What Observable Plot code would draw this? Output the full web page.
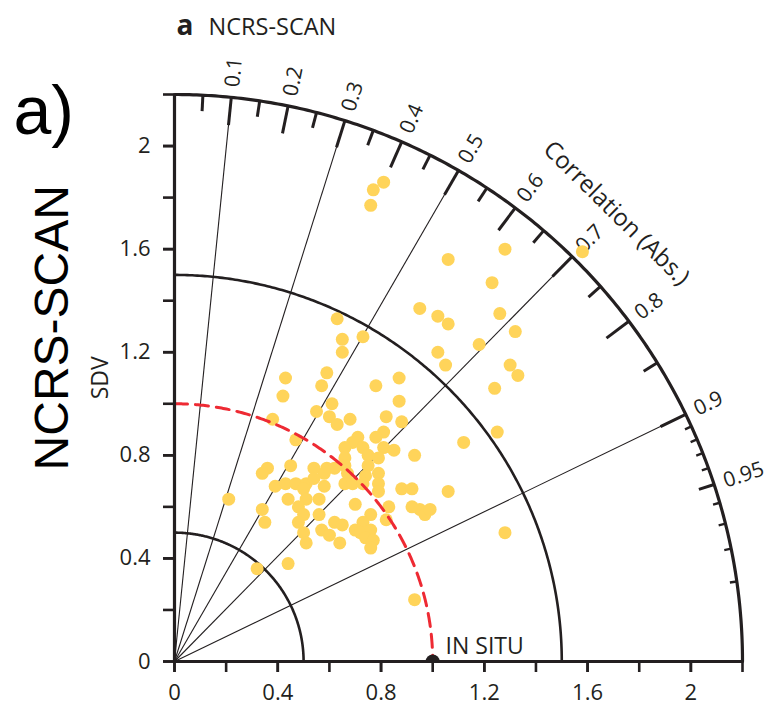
<!DOCTYPE html>
<html>
<head>
<meta charset="utf-8">
<script src="https://cdn.jsdelivr.net/npm/d3@7"></script>
<script src="https://cdn.jsdelivr.net/npm/@observablehq/plot@0.6"></script>
<style>
  html, body { margin: 0; padding: 0; background: #fff; }
</style>
</head>
<body>
<div id="chart"></div>
<script>
// ---------- texts ----------
const panelLetter = "a";
const panelTitle = "NCRS-SCAN";
const panelTag = "a)";
const rowLabel = "NCRS-SCAN";
const sdvLabel = "SDV";
const corrLabel = "Correlation (Abs.)";
const refLabel = "IN SITU";

// ---------- diagram set-up ----------
const sdvMax = 2.2;
const refSDV = 1.0;
const sdvTicks = [0, 0.4, 0.8, 1.2, 1.6, 2];
const sdvMinorTicks = [0, 0.2, 0.4, 0.6, 0.8, 1.0, 1.2, 1.4, 1.6, 1.8, 2.0, 2.2];
const sdvArcs = [0.5, 1.5];
const corrLines = [0.1, 0.3, 0.5, 0.7, 0.9];
const corrMajor = [0.1, 0.2, 0.3, 0.4, 0.5, 0.6, 0.7, 0.8, 0.9];
const corrMinor = [0.05, 0.15, 0.25, 0.35, 0.45, 0.55, 0.65, 0.75, 0.85, 0.95];
const corrFine = [0.91, 0.92, 0.93, 0.94, 0.96, 0.97, 0.98, 0.99];
const corrTickLabels = [0.1, 0.2, 0.3, 0.4, 0.5, 0.6, 0.7, 0.8, 0.9, 0.95];

// ---------- model points (SDV·corr, SDV·sin) ----------
const ptX = [0.65,0.73,0.65,1.02,1.05,0.43,0.59,0.87,0.42,0.57,
             0.78,0.61,0.87,0.55,0.60,0.68,0.82,0.38,0.63,0.88,
             0.81,0.47,0.78,0.71,0.69,0.81,0.85,0.66,0.73,1.12,
             0.93,0.66,0.75,0.79,0.45,0.36,0.34,0.54,0.59,0.62,
             0.66,0.75,0.58,0.67,0.74,0.79,0.66,0.69,0.73,0.79,
             0.39,0.43,0.47,0.51,0.54,0.50,0.58,0.79,0.88,0.92,
             1.06,0.21,0.44,0.51,0.56,0.70,0.83,0.92,0.95,0.97,
             0.99,0.34,0.48,0.50,0.56,0.76,0.82,0.35,0.48,0.62,
             0.65,0.73,0.70,0.57,0.50,0.60,0.64,0.72,0.76,0.74,
             0.77,0.51,0.76,0.44,0.32,
             0.81,0.77,0.76,0.63,1.28,1.06,1.23,0.95,1.02,1.06,
             1.26,1.32,1.18,1.30,1.33,1.24,1.25,1.28,1.58,0.93];
const ptY = [1.25,1.26,1.20,1.20,1.15,1.10,1.12,1.10,1.03,1.07,
             1.07,1.00,1.01,0.97,0.95,0.94,0.95,0.94,0.92,0.93,
             0.89,0.86,0.87,0.87,0.85,0.83,0.82,0.83,0.83,0.85,
             0.80,0.79,0.80,0.79,0.76,0.75,0.73,0.75,0.75,0.75,
             0.76,0.76,0.73,0.73,0.72,0.73,0.69,0.69,0.69,0.69,
             0.68,0.69,0.69,0.69,0.71,0.67,0.68,0.66,0.67,0.67,
             0.66,0.63,0.63,0.63,0.63,0.61,0.60,0.60,0.59,0.57,
             0.59,0.59,0.60,0.57,0.57,0.57,0.55,0.54,0.54,0.54,
             0.53,0.54,0.51,0.51,0.50,0.49,0.46,0.50,0.51,0.48,
             0.47,0.46,0.44,0.38,0.36,
             1.86,1.83,1.77,1.33,1.60,1.56,1.47,1.37,1.34,1.31,
             1.35,1.28,1.23,1.15,1.11,1.06,0.89,0.50,1.59,0.24];

// ---------- derived tables ----------
const points = ptX.map((x, i) => ({x, y: ptY[i]}));
const sinOf = c => Math.sqrt(1 - c * c);
const arc = (r, n = 240) => d3.range(n + 1).map(i => {
  const a = (1 - i / n) * Math.PI / 2;           // from the SDV axis down to the x axis
  return {x: r * Math.cos(a), y: r * Math.sin(a)};
});
const tickLen = px => px / 258;

const INK = "#231f20";
const YELLOW = "#ffd45a";
const RED = "#ee2a33";
const SANS = "'Open Sans', 'Noto Sans', sans-serif";
const ARIAL = "'Liberation Sans', Arial, sans-serif";

const corrLabelAngle = 45.45 * Math.PI / 180;
const corrLabelR = 2.44;

const chart = Plot.plot({
  width: 766,
  height: 705,
  marginLeft: 174,
  marginRight: 24,
  marginTop: 94,
  marginBottom: 44,
  x: {domain: [0, sdvMax], nice: false},
  y: {domain: [0, sdvMax], nice: false},
  style: {background: "#fff", color: INK, fontFamily: SANS, fontSize: "22px", overflow: "visible"},
  marks: [
    // radial correlation lines
    Plot.link(corrLines, {
      x1: () => 0, y1: () => 0,
      x2: c => sdvMax * c, y2: c => sdvMax * sinOf(c),
      stroke: INK, strokeWidth: 1.1
    }),
    // SDV arcs
    ...sdvArcs.map(r => Plot.line(arc(r), {x: "x", y: "y", stroke: INK, strokeWidth: 2.6})),
    Plot.line(arc(sdvMax), {x: "x", y: "y", stroke: INK, strokeWidth: 3.2}),
    // correlation ticks on the outer arc
    Plot.link(corrMajor, {
      x1: c => sdvMax * c, y1: c => sdvMax * sinOf(c),
      x2: c => (sdvMax - tickLen(28)) * c, y2: c => (sdvMax - tickLen(28)) * sinOf(c),
      stroke: INK, strokeWidth: 3
    }),
    Plot.link(corrMinor, {
      x1: c => sdvMax * c, y1: c => sdvMax * sinOf(c),
      x2: c => (sdvMax - tickLen(16)) * c, y2: c => (sdvMax - tickLen(16)) * sinOf(c),
      stroke: INK, strokeWidth: 3
    }),
    Plot.link(corrFine, {
      x1: c => sdvMax * c, y1: c => sdvMax * sinOf(c),
      x2: c => (sdvMax - tickLen(7)) * c, y2: c => (sdvMax - tickLen(7)) * sinOf(c),
      stroke: INK, strokeWidth: 2.4
    }),
    // correlation tick labels
    Plot.text(corrTickLabels, {
      x: c => 2.24 * c, y: c => 2.24 * sinOf(c),
      text: c => String(c),
      rotate: c => -Math.acos(c) * 180 / Math.PI,
      textAnchor: "start", lineAnchor: "middle",
      fontSize: 21, fill: INK
    }),
    Plot.text([corrLabel], {
      x: () => corrLabelR * Math.cos(corrLabelAngle),
      y: () => corrLabelR * Math.sin(corrLabelAngle),
      text: d => d, rotate: 90 - 45.45,
      textAnchor: "middle", lineAnchor: "middle",
      fontSize: 24, fill: INK
    }),
    // model points
    Plot.dot(points, {x: "x", y: "y", r: 6.5, fill: YELLOW, stroke: "none"}),
    // reference SDV arc
    Plot.line(arc(refSDV), {x: "x", y: "y", stroke: RED, strokeWidth: 3, strokeDasharray: "13,8"}),
    // reference point
    Plot.dot([refSDV], {x: d => d, y: () => 0, r: 7, fill: INK, stroke: "none", clip: "frame"}),
    Plot.text([refLabel], {x: () => 1.05, y: () => 0.031, text: d => d, textAnchor: "start", lineAnchor: "bottom", fontSize: 23, fill: INK}),
    // axes
    Plot.ruleX([0], {y1: 0, y2: sdvMax, stroke: INK, strokeWidth: 3.2}),
    Plot.ruleY([0], {x1: 0, x2: sdvMax, stroke: INK, strokeWidth: 3.2}),
    Plot.axisY(sdvMinorTicks, {tickSize: 11, tickFormat: () => "", strokeWidth: 2.6, stroke: INK, label: null}),
    Plot.axisY(sdvTicks, {tickSize: 11, tickPadding: 13, tickFormat: d => String(d), strokeWidth: 2.6, stroke: INK, fontSize: 22, label: null}),
    Plot.axisX(sdvMinorTicks, {tickSize: 11, tickFormat: () => "", strokeWidth: 2.6, stroke: INK, label: null}),
    Plot.axisX(sdvTicks, {tickSize: 11, tickPadding: 12, tickFormat: d => String(d), strokeWidth: 2.6, stroke: INK, fontSize: 22, label: null}),
    // axis & panel labels
    Plot.text([sdvLabel], {x: () => -0.256, y: () => 1.101, text: d => d, rotate: -90, textAnchor: "middle", lineAnchor: "bottom", fontSize: 23, fill: INK}),
    Plot.text([rowLabel], {x: () => -0.411, y: () => 1.295, text: d => d, rotate: -90, textAnchor: "middle", lineAnchor: "bottom", fontSize: 48, fontFamily: ARIAL, fill: "#000"}),
    Plot.text([panelTag], {x: () => -0.624, y: () => 2.047, text: d => d, textAnchor: "start", lineAnchor: "bottom", fontSize: 68, fontFamily: ARIAL, fill: "#000"}),
    Plot.text([panelLetter], {x: () => 0.008, y: () => 2.43, text: d => d, textAnchor: "start", lineAnchor: "bottom", fontSize: 28, fontWeight: "bold", fill: INK}),
    Plot.text([panelTitle], {x: () => 0.132, y: () => 2.43, text: d => d, textAnchor: "start", lineAnchor: "bottom", fontSize: 23.5, fill: INK})
  ]
});

document.getElementById("chart").appendChild(chart);
</script>
</body>
</html>
